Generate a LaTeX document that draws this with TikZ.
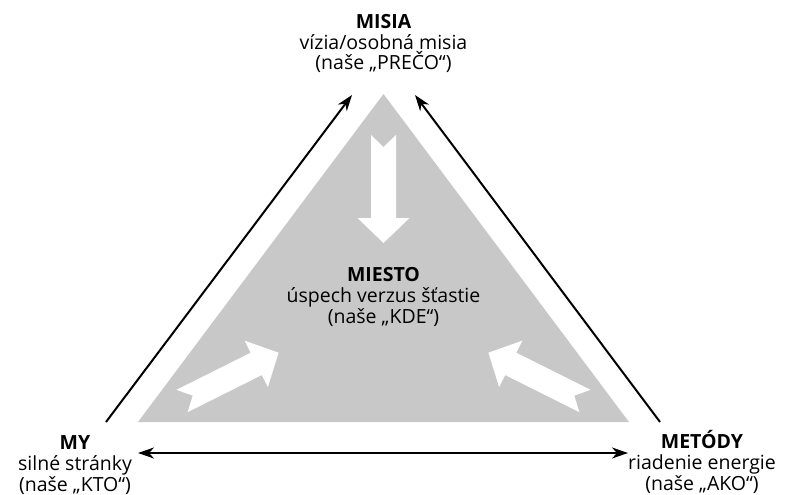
\documentclass[tikz,border=0pt]{standalone}
\usepackage{fontspec}
\setmainfont{Open Sans}
\usetikzlibrary{arrows.meta}
\definecolor{trigray}{RGB}{200,200,200}
\tikzset{
  lbl/.style={align=center,inner sep=0pt,font=\fontsize{19.5}{20.8}\selectfont,anchor=base},
  conn/.style={line width=2pt,-{Stealth[length=16pt,width=11pt,inset=5pt]}},
  conntwo/.style={line width=2pt,{Stealth[length=16pt,width=11pt,inset=5pt]}-{Stealth[length=16pt,width=11pt,inset=5pt]}},
  warr/.pic={\fill[white] (0,12.5) -- (83,12.5) -- (83,26) -- (108,0) -- (83,-26) -- (83,-12.5) -- (0,-12.5) -- (12,0) -- cycle;}
}
\begin{document}
\begin{tikzpicture}[x=1pt,y=1pt]
\useasboundingbox (0,0) rectangle (788,-495);
\fill[trigray] (383.5,-94) -- (629,-422) -- (138,-422) -- cycle;
\pic[rotate=-90] at (383.5,-135) {warr};
\pic[rotate=26.57] at (182,-401) {warr};
\pic[rotate=153.43] at (585,-401) {warr};
\node[lbl] (misia) at (383.5,-70) {\textbf{MISIA}\\vízia/osobná misia\\(naše „PREČO“)};
\node[lbl] (my) at (75,-491) {\textbf{MY}\\silné stránky\\(naše „KTO“)};
\node[lbl] (metody) at (702,-490) {\textbf{METÓDY}\\riadenie energie\\(naše „AKO“)};
\node[lbl] (miesto) at (383.5,-323) {\textbf{MIESTO}\\úspech verzus šťastie\\(naše „KDE“)};
\coordinate (myTop) at (106,-422);
\coordinate (misiaLeft) at (352,-95);
\coordinate (metTop) at (660,-422);
\coordinate (misiaRight) at (415,-95);
\coordinate (myRight) at (138,-453);
\coordinate (metLeft) at (628,-453);
\draw[conn] (myTop) -- (misiaLeft);
\draw[conn] (metTop) -- (misiaRight);
\draw[conntwo] (myRight) -- (metLeft);
\end{tikzpicture}
\end{document}
